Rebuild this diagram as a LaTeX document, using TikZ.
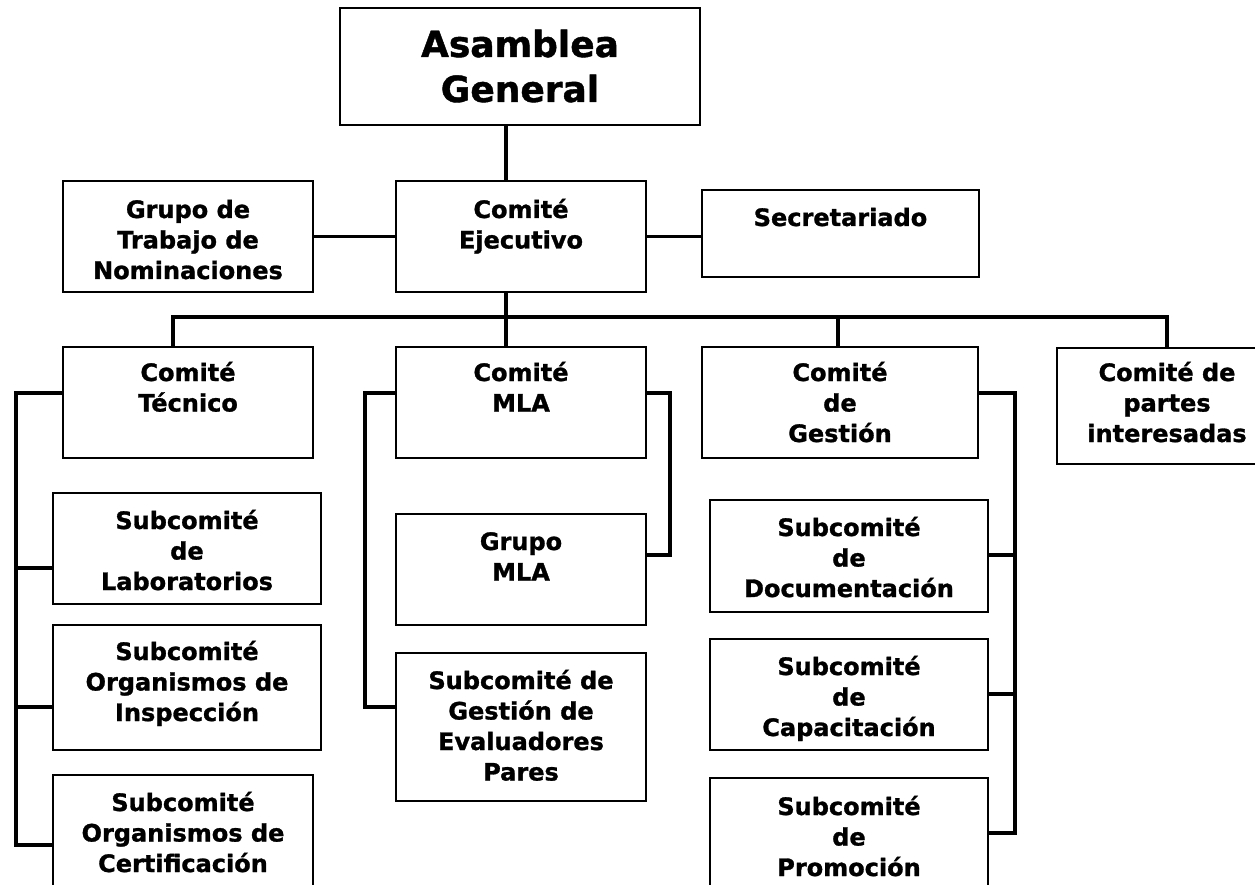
\documentclass[tikz,border=0pt]{standalone}
\usepackage{fontspec}
\setmainfont{DejaVu Sans}[BoldFeatures={FakeBold=1.2}]
\tikzset{
  x=1pt, y=-1pt,
  box/.style={draw, line width=2pt, inner sep=0pt, anchor=north west,
    font=\fontsize{24}{30.5}\selectfont\bfseries},
  bigbox/.style={box, font=\fontsize{36}{45}\selectfont\bfseries},
  conn/.style={line width=3.4pt, line join=miter}
}
\newcommand{\orgbox}[8][box]{%
  \node[#1] (#2) at (#3,#4) {\parbox[t][#6pt][t]{#5pt}{\centering\rule{0pt}{#7pt}#8}};}
\begin{document}
\begin{tikzpicture}
\useasboundingbox (0,0) rectangle (1255,885);
\clip (0,0) rectangle (1255,885);
% boxes
\orgbox[bigbox]{asam}{339}{7}{360}{117}{49}{Asamblea\\General}
\orgbox{ce}{395}{180}{250}{111}{37}{Comité\\Ejecutivo}
\orgbox{grupo}{62}{180}{250}{111}{37}{Grupo de\\Trabajo de\\Nominaciones}
\orgbox{sec}{701}{189}{277}{87}{36}{Secretariado}
\orgbox{ct}{62}{346}{250}{111}{34}{Comité\\Técnico}
\orgbox{mla}{395}{346}{250}{111}{34}{Comité\\MLA}
\orgbox{gest}{701}{346}{276}{111}{34}{Comité\\de\\Gestión}
\orgbox{partes}{1056}{347}{220}{116}{33}{Comité de\\partes\\interesadas}
\orgbox{lab}{52}{492}{268}{111}{36}{Subcomité\\de\\Laboratorios}
\orgbox{insp}{52}{624}{268}{125}{35}{Subcomité\\Organismos de\\Inspección}
\orgbox{cert}{52}{774}{260}{130}{36}{Subcomité\\Organismos de\\Certificación}
\orgbox{gmla}{395}{513}{250}{111}{36}{Grupo\\MLA}
\orgbox{sgest}{395}{652}{250}{148}{36}{Subcomité de\\Gestión de\\Evaluadores\\Pares}
\orgbox{doc}{709}{499}{278}{112}{36}{Subcomité\\de\\Documentación}
\orgbox{cap}{709}{638}{278}{111}{36}{Subcomité\\de\\Capacitación}
\orgbox{prom}{709}{777}{278}{130}{37}{Subcomité\\de\\Promoción}
% junction coordinates
\coordinate (t1) at (506,0);
\coordinate (b1) at (173,317);
\coordinate (b2) at (506,317);
\coordinate (b3) at (838,317);
\coordinate (b4) at (1167,317);
\coordinate (l1) at (16,393);
\coordinate (l2) at (16,568);
\coordinate (l3) at (16,707);
\coordinate (l4) at (16,845);
\coordinate (m1) at (365,393);
\coordinate (m2) at (365,707);
\coordinate (r1) at (670,393);
\coordinate (r2) at (670,555);
\coordinate (g1) at (1015,393);
\coordinate (g2) at (1015,555);
\coordinate (g3) at (1015,694);
\coordinate (g4) at (1015,833);
% connectors
\draw[conn] (asam.south -| t1) -- (ce.north -| t1);
\draw[conn] (grupo.east) -- (ce.west);
\draw[conn] (ce.east) -- (sec.west |- ce.east);
\draw[conn] (ce.south -| b2) -- (b2);
\draw[conn] (ct.north -| b1) -- (b1) -- (b4) -- (partes.north -| b4);
\draw[conn] (b2) -- (mla.north -| b2);
\draw[conn] (b3) -- (gest.north -| b3);
\draw[conn] (ct.west |- l1) -- (l1) -- (l4) -- (cert.west |- l4);
\draw[conn] (l2) -- (lab.west |- l2);
\draw[conn] (l3) -- (insp.west |- l3);
\draw[conn] (mla.west |- m1) -- (m1) -- (m2) -- (sgest.west |- m2);
\draw[conn] (mla.east |- r1) -- (r1) -- (r2) -- (gmla.east |- r2);
\draw[conn] (gest.east |- g1) -- (g1) -- (g4) -- (prom.east |- g4);
\draw[conn] (g2) -- (doc.east |- g2);
\draw[conn] (g3) -- (cap.east |- g3);
\end{tikzpicture}
\end{document}
